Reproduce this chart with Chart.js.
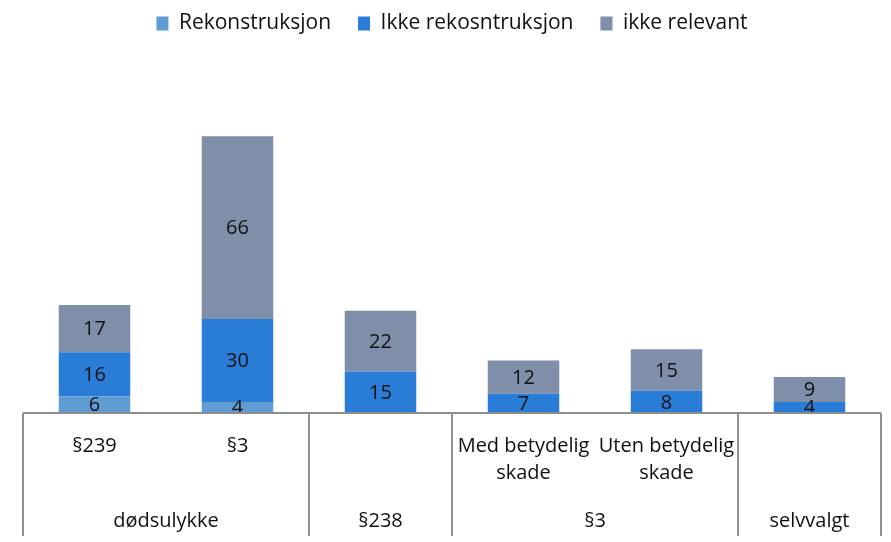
<!DOCTYPE html>
<html>
<head>
<meta charset="utf-8">
<script src="https://cdn.jsdelivr.net/npm/chart.js@4"></script>
<style>
  html, body { margin: 0; padding: 0; background: #fff; }
</style>
</head>
<body>
<canvas id="chart" width="891" height="542"></canvas>
<script>
var categories = [['§239'], ['§3'], [''], ['Med betydelig', 'skade'], ['Uten betydelig', 'skade'], ['']];
var groupLabels = ['dødsulykke', '§238', '§3', 'selvvalgt'];
var groupSizes = [2, 1, 2, 1];

var rekonstruksjon = [6, 4, 0, 0, 0, 0];
var ikkeRekonstruksjon = [16, 30, 15, 7, 8, 4];
var ikkeRelevant = [17, 66, 22, 12, 15, 9];

var yMax = 120;
var fontFamily = '"Open Sans", Lato, sans-serif';

// legend takes fixed room so the plot top lands where it should
var legendRoom = {
    id: 'legendRoom',
    beforeInit: function(chart) {
        var fit = chart.legend.fit;
        chart.legend.fit = function() {
            fit.bind(chart.legend)();
            this.height = 95;
        };
    }
};

// values in the middle of each segment
var segmentLabels = {
    id: 'segmentLabels',
    afterDatasetsDraw: function(chart) {
        var ctx = chart.ctx;
        ctx.save();
        ctx.fillStyle = '#111';
        ctx.font = '20px ' + fontFamily;
        ctx.textAlign = 'center';
        ctx.textBaseline = 'middle';
        chart.data.datasets.forEach(function(ds, i) {
            var meta = chart.getDatasetMeta(i);
            meta.data.forEach(function(el, j) {
                var v = ds.data[j];
                if (!v) return;
                ctx.fillText(v, el.x, (el.y + el.base) / 2 + 1);
            });
        });
        ctx.restore();
    }
};

// two level category axis with group separators
var multiAxis = {
    id: 'multiAxis',
    afterDraw: function(chart) {
        var ctx = chart.ctx;
        var x = chart.scales.x;
        var area = chart.chartArea;
        var step = x.getPixelForValue(1) - x.getPixelForValue(0);
        var bottom = 536;
        ctx.save();
        ctx.strokeStyle = '#8e8e8e';
        ctx.lineWidth = 2;
        ctx.beginPath();
        ctx.moveTo(area.left, area.bottom);
        ctx.lineTo(area.right, area.bottom);
        var start = 0;
        var edges = [area.left];
        groupSizes.forEach(function(n) {
            start += n;
            edges.push(x.getPixelForValue(start - 1) + step / 2);
        });
        edges.forEach(function(px) {
            ctx.moveTo(px, area.bottom);
            ctx.lineTo(px, bottom);
        });
        ctx.stroke();

        ctx.fillStyle = '#111';
        ctx.font = '20px ' + fontFamily;
        ctx.textAlign = 'center';
        ctx.textBaseline = 'middle';
        categories.forEach(function(lines, i) {
            var cx = x.getPixelForValue(i);
            lines.forEach(function(t, k) {
                ctx.fillText(t, cx, 446 + k * 27);
            });
        });
        start = 0;
        groupSizes.forEach(function(n, g) {
            var cx = (x.getPixelForValue(start) + x.getPixelForValue(start + n - 1)) / 2;
            ctx.fillText(groupLabels[g], cx, 521);
            start += n;
        });
        ctx.restore();
    }
};

new Chart(document.getElementById('chart'), {
    type: 'bar',
    data: {
        labels: categories,
        datasets: [{
            label: 'Rekonstruksjon',
            data: rekonstruksjon,
            backgroundColor: '#5e9cd3'
        }, {
            label: 'Ikke rekosntruksjon',
            data: ikkeRekonstruksjon,
            backgroundColor: '#2a7dd6'
        }, {
            label: 'ikke relevant',
            data: ikkeRelevant,
            backgroundColor: '#7f8ea9'
        }]
    },
    options: {
        responsive: false,
        animation: false,
        devicePixelRatio: 1,
        layout: { padding: { left: 23, right: 10, top: -14, bottom: 129 } },
        datasets: { bar: { categoryPercentage: 1, barPercentage: 0.5 } },
        scales: {
            x: { stacked: true, display: false },
            y: { stacked: true, display: false, min: 0, max: yMax }
        },
        plugins: {
            tooltip: { enabled: false },
            legend: {
                position: 'top',
                labels: {
                    color: '#111',
                    font: { family: fontFamily, size: 21 },
                    boxWidth: 12,
                    boxHeight: 14,
                    padding: 27
                }
            }
        }
    },
    plugins: [legendRoom, segmentLabels, multiAxis]
});
</script>
</body>
</html>
